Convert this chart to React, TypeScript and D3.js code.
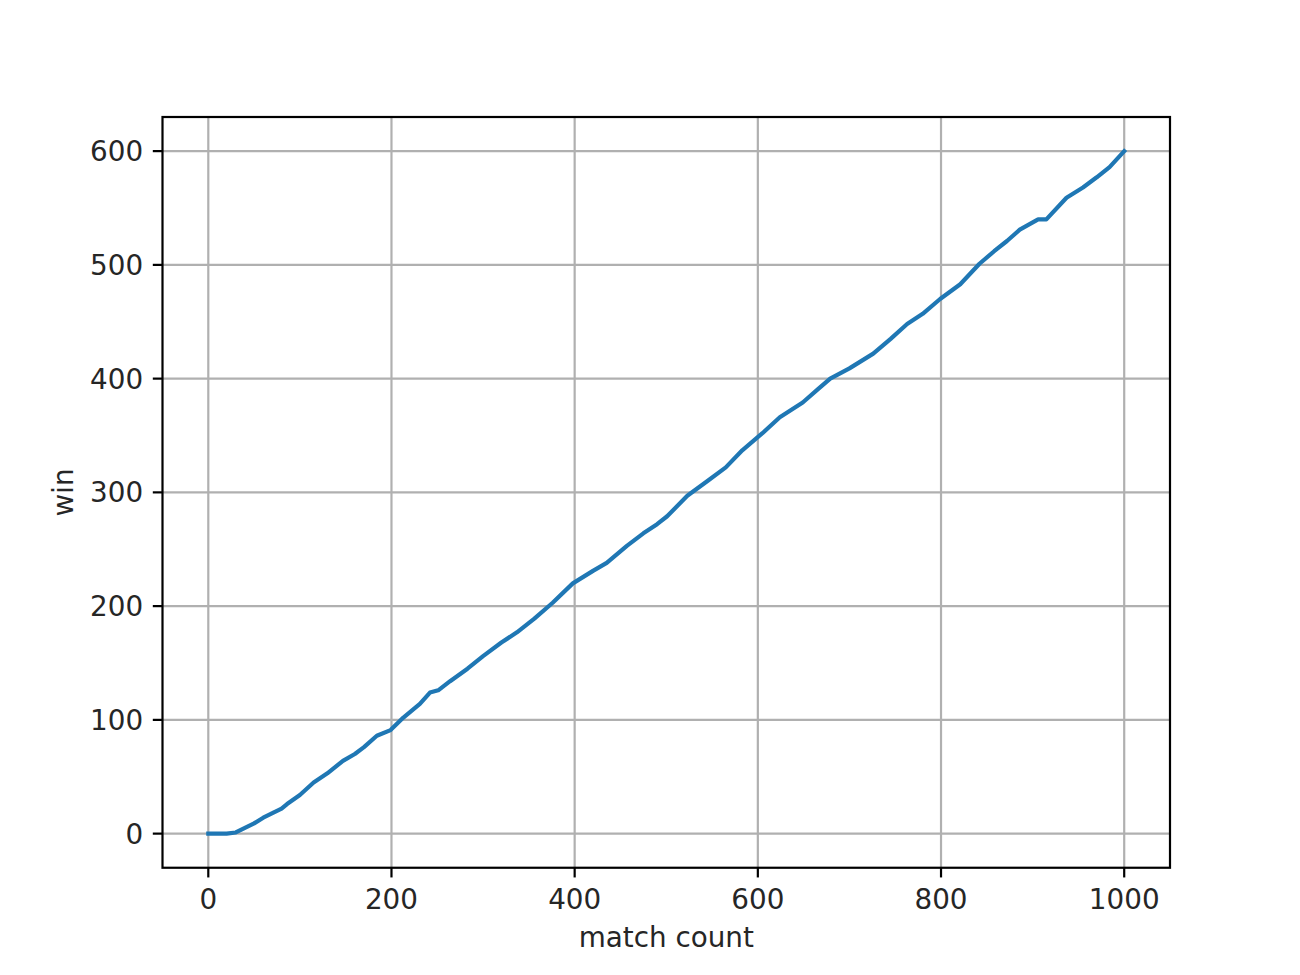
import React from "react";
import * as d3 from "d3";

const matchCount = [0, 10, 20, 30, 40, 50, 60, 70, 80, 86, 100, 115, 130, 147, 160, 170, 184, 199, 213, 231, 242, 251, 264, 283, 300, 320, 337, 356, 376, 398, 420, 435, 457, 475, 490, 501, 523, 545, 565, 583, 605, 624, 649, 666, 679, 700, 726, 745, 763, 780, 799, 821, 842, 858, 872, 886, 906, 915, 937, 955, 970, 984, 1000];
const wins = [0, 0, 0, 1, 5, 9, 14, 18, 22, 26, 34, 45, 53, 64, 70, 76, 86, 91, 102, 114, 124, 126, 134, 145, 156, 168, 177, 189, 203, 220, 231, 238, 253, 264, 272, 279, 297, 310, 322, 337, 352, 366, 379, 391, 400, 409, 422, 435, 448, 457, 470, 483, 501, 512, 521, 531, 540, 540, 559, 568, 577, 586, 600];
const xTicks = [0, 200, 400, 600, 800, 1000];
const yTicks = [0, 100, 200, 300, 400, 500, 600];
const xLabel = "match count";
const yLabel = "win";

export default function App() {
  const W = 1300, H = 975;
  const left = 162.5, right = 1170, top = 117, bottom = 867.75;
  const x = d3.scaleLinear().domain([-50, 1050]).range([left, right]);
  const y = d3.scaleLinear().domain([-30, 630]).range([bottom, top]);
  const data = matchCount.map((m, i) => [m, wins[i]] as [number, number]);
  const line = d3.line<[number, number]>().x(d => x(d[0])).y(d => y(d[1]));
  const font = "DejaVu Sans, sans-serif";
  const fs = 27.8;
  const tickLen = 9.7;
  const grid = "#b0b0b0";
  const lw = 2.2;
  return (
    <svg width={W} height={H} style={{ position: "absolute", left: 0, top: 0 }} fontFamily={font}>
      <rect x={0} y={0} width={W} height={H} fill="#fff" />
      <defs>
        <clipPath id="clip">
          <rect x={left} y={top} width={right - left} height={bottom - top} />
        </clipPath>
      </defs>
      <g clipPath="url(#clip)">
        {xTicks.map(t => (
          <line key={"gx" + t} x1={x(t)} x2={x(t)} y1={top} y2={bottom} stroke={grid} strokeWidth={lw} />
        ))}
        {yTicks.map(t => (
          <line key={"gy" + t} x1={left} x2={right} y1={y(t)} y2={y(t)} stroke={grid} strokeWidth={lw} />
        ))}
      </g>
      <path d={line(data) || ""} fill="none" stroke="#1f77b4" strokeWidth={4.2} strokeLinejoin="round" strokeLinecap="square" clipPath="url(#clip)" />
      <rect x={left} y={top} width={right - left} height={bottom - top} fill="none" stroke="#000" strokeWidth={lw} />
      {xTicks.map(t => (
        <g key={"xt" + t}>
          <line x1={x(t)} x2={x(t)} y1={bottom} y2={bottom + tickLen} stroke="#000" strokeWidth={lw} />
          <text x={x(t)} y={bottom + 2 * tickLen + 21.5} textAnchor="middle" fontSize={fs} fill="#262626">{t}</text>
        </g>
      ))}
      {yTicks.map(t => (
        <g key={"yt" + t}>
          <line x1={left - tickLen} x2={left} y1={y(t)} y2={y(t)} stroke="#000" strokeWidth={lw} />
          <text x={left - 2 * tickLen} y={y(t) + 10.1} textAnchor="end" fontSize={fs} fill="#262626">{t}</text>
        </g>
      ))}
      <text x={(left + right) / 2} y={947} textAnchor="middle" fontSize={fs} fill="#262626">{xLabel}</text>
      <text transform={`translate(73, ${(top + bottom) / 2}) rotate(-90)`} textAnchor="middle" fontSize={fs} fill="#262626">{yLabel}</text>
    </svg>
  );
}
